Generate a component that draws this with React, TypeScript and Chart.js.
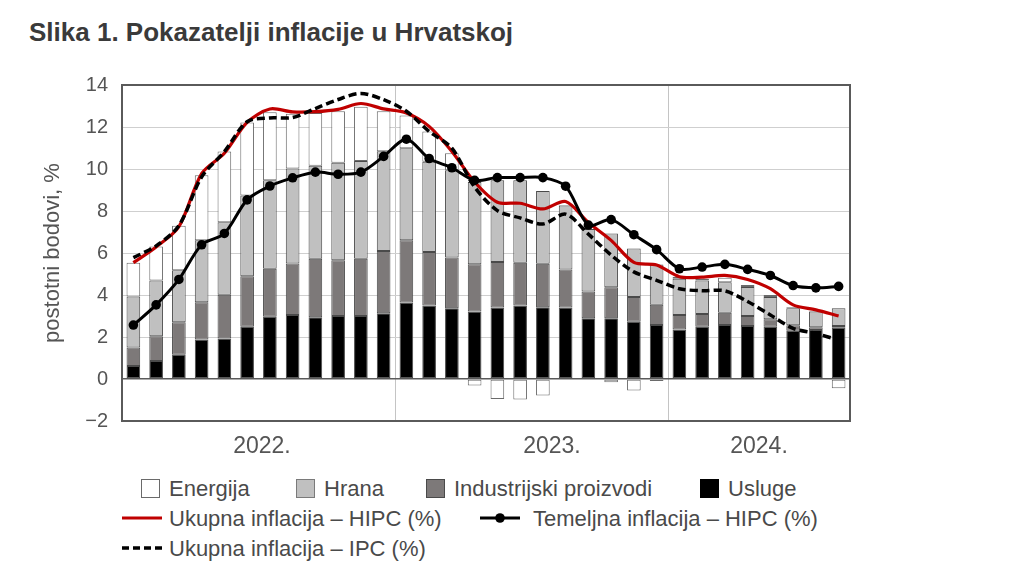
import React, { useEffect, useRef } from "react";
import { Chart, registerables } from "chart.js";

Chart.register(...registerables);

// Months Jan 2022 – Aug 2024
const months = [
  "2022-01", "2022-02", "2022-03", "2022-04", "2022-05", "2022-06", "2022-07", "2022-08", "2022-09", "2022-10", "2022-11", "2022-12",
  "2023-01", "2023-02", "2023-03", "2023-04", "2023-05", "2023-06", "2023-07", "2023-08", "2023-09", "2023-10", "2023-11", "2023-12",
  "2024-01", "2024-02", "2024-03", "2024-04", "2024-05", "2024-06", "2024-07", "2024-08",
];

const usluge = [
  0.62, 0.86, 1.16, 1.88, 1.93, 2.49, 2.97, 3.05, 2.94, 3.0, 3.0, 3.13,
  3.64, 3.5, 3.37, 3.21, 3.4, 3.5, 3.42, 3.4, 2.89, 2.89, 2.73, 2.57,
  2.36, 2.49, 2.57, 2.52, 2.49, 2.3, 2.33, 2.44,
];

const industrijski = [
  0.88, 1.18, 1.54, 1.78, 2.08, 2.4, 2.28, 2.45, 2.79, 2.65, 2.73, 2.97,
  2.97, 2.55, 2.41, 2.25, 2.17, 2.04, 2.07, 1.82, 1.28, 1.48, 1.17, 0.96,
  0.69, 0.61, 0.59, 0.48, 0.36, 0.26, 0.13, 0.08,
];

const hrana = [
  2.43, 2.65, 2.48, 2.95, 3.45, 3.85, 4.21, 4.52, 4.42, 4.65, 4.65, 4.75,
  4.38, 4.29, 4.16, 3.92, 3.89, 3.92, 3.46, 3.04, 2.97, 2.56, 2.31, 1.92,
  1.72, 1.59, 1.45, 1.38, 1.05, 0.81, 0.75, 0.85,
];

const energija = [
  1.61, 1.62, 2.12, 3.09, 3.37, 3.48, 3.24, 2.61, 2.52, 2.45, 2.58, 1.9,
  1.56, 1.45, 0.81, -0.31, -0.95, -0.98, -0.79, 0.03, 0.0, -0.15, -0.55, -0.1,
  0.1, 0.08, 0.21, 0.1, 0.1, 0.05, 0.04, -0.44,
];

const hipc = [
  5.54, 6.29, 7.25, 9.78, 10.75, 12.22, 12.86, 12.72, 12.73, 12.84, 13.12, 12.86,
  12.67, 12.03, 10.83, 9.38, 8.42, 8.37, 8.1, 8.45, 7.45, 6.6, 5.55, 5.43,
  4.87, 4.85, 4.93, 4.74, 4.3, 3.53, 3.29, 3.0,
];

const temeljna = [
  2.57, 3.53, 4.74, 6.39, 6.93, 8.53, 9.19, 9.58, 9.85, 9.75, 9.85, 10.6,
  11.42, 10.5, 10.06, 9.46, 9.59, 9.59, 9.59, 9.18, 7.33, 7.59, 6.87, 6.16,
  5.25, 5.33, 5.46, 5.22, 4.93, 4.45, 4.34, 4.41,
];

const ipc = [
  5.78, 6.34, 7.3, 9.62, 10.83, 12.25, 12.43, 12.45, 12.88, 13.31, 13.6, 13.3,
  12.75, 11.79, 10.99, 9.14, 8.02, 7.67, 7.38, 7.85, 6.9, 5.9, 5.1, 4.7,
  4.3, 4.2, 4.2, 3.69, 3.05, 2.41, 2.17, 1.85,
];

const yearLabels = ["2022.", "2023.", "2024."];

const FONT = "'Liberation Sans', Arial, Helvetica, sans-serif";
const TEXT = "#555555";

const framePlugin = {
  id: "frame",
  beforeDatasetsDraw(chart: any) {
    const { ctx, chartArea } = chart;
    const { left, top, right, bottom } = chartArea;
    ctx.save();
    ctx.strokeStyle = "#5a5a5a";
    ctx.lineWidth = 2;
    ctx.strokeRect(left, top, right - left, bottom - top);
    ctx.restore();
  },
};

function ChartCanvas() {
  const ref = useRef<HTMLCanvasElement | null>(null);
  useEffect(() => {
    if (!ref.current) return;
    const yearTickValues = [6.15, 12, 18.9, 24, 28];
    const yearTickText = [yearLabels[0], "", yearLabels[1], "", yearLabels[2]];
    const barCommon = {
      type: "bar" as const,
      stack: "bars",
      borderColor: "#4a4a4a",
      borderWidth: 1,
      barPercentage: 0.6,
      categoryPercentage: 1.0,
      borderSkipped: false as const,
    };
    const chart = new Chart(ref.current, {
      type: "bar",
      data: {
        labels: months,
        datasets: [
          {
            type: "line",
            label: "Ukupna inflacija – IPC (%)",
            data: ipc,
            borderColor: "#000000",
            borderWidth: 3.5,
            borderDash: [8, 4],
            pointRadius: 0,
            tension: 0.3,
            fill: false,
            stack: "l-ipc",
          },
          {
            type: "line",
            label: "Temeljna inflacija – HIPC (%)",
            data: temeljna,
            borderColor: "#000000",
            backgroundColor: "#000000",
            borderWidth: 3,
            pointRadius: 4.8,
            pointBackgroundColor: "#000000",
            pointBorderWidth: 0,
            tension: 0.3,
            fill: false,
            stack: "l-core",
          },
          {
            type: "line",
            label: "Ukupna inflacija – HIPC (%)",
            data: hipc,
            borderColor: "#c00000",
            borderWidth: 3.2,
            pointRadius: 0,
            tension: 0.3,
            fill: false,
            stack: "l-hipc",
          },
          { ...barCommon, label: "Usluge", data: usluge, backgroundColor: "#000000" },
          { ...barCommon, label: "Industrijski proizvodi", data: industrijski, backgroundColor: "#7d7979" },
          { ...barCommon, label: "Hrana", data: hrana, backgroundColor: "#c0c0c0" },
          { ...barCommon, label: "Energija", data: energija, backgroundColor: "#ffffff", borderColor: "#6a6a6a" },
        ] as any,
      },
      options: {
        animation: false,
        responsive: false,
        maintainAspectRatio: false,
        layout: { padding: { left: 36, top: 85, right: 174, bottom: 0 } },
        plugins: {
          legend: { display: false },
          tooltip: { enabled: false },
        },
        scales: {
          x: {
            type: "category",
            display: false,
            offset: true,
            stacked: true,
          },
          xYear: {
            type: "linear",
            position: "bottom",
            min: 0,
            max: 32,
            offset: false,
            afterBuildTicks: (axis: any) => {
              axis.ticks = yearTickValues.map((v) => ({ value: v }));
            },
            afterFit: (axis: any) => {
              axis.height = 45;
            },
            ticks: {
              autoSkip: false,
              maxRotation: 0,
              padding: 12,
              color: TEXT,
              font: { family: FONT, size: 23 },
              callback: (_v: any, i: number) => yearTickText[i],
            },
            grid: {
              offset: false,
              drawTicks: false,
              lineWidth: 1,
              color: (ctx: any) =>
                ctx.tick && (ctx.tick.value === 12 || ctx.tick.value === 24) ? "#c4c4c4" : "rgba(0,0,0,0)",
            },
            border: { display: false },
          },
          y: {
            stacked: true,
            min: -2,
            max: 14,
            afterFit: (axis: any) => {
              axis.width = 86;
            },
            ticks: {
              stepSize: 2,
              padding: 14,
              color: TEXT,
              font: { family: FONT, size: 20 },
              callback: (v: any) => (Number(v) < 0 ? "\u2212" + Math.abs(Number(v)) : String(v)),
            },
            grid: {
              drawTicks: false,
              color: (ctx: any) => (ctx.tick && ctx.tick.value === 0 ? "#5a5a5a" : "#cfcfcf"),
              lineWidth: (ctx: any) => (ctx.tick && ctx.tick.value === 0 ? 1.5 : 1),
            },
            border: { display: false },
            title: {
              display: true,
              text: "postotni bodovi, %",
              color: TEXT,
              font: { family: FONT, size: 22 },
            },
          },
        },
      } as any,
      plugins: [framePlugin],
    });
    return () => chart.destroy();
  }, []);
  return (
    <canvas
      ref={ref}
      width={1024}
      height={466}
      style={{ position: "absolute", left: 0, top: 0, width: 1024, height: 466 }}
    />
  );
}

const legendText: React.CSSProperties = {
  position: "absolute",
  fontFamily: FONT,
  fontSize: 22,
  lineHeight: "22px",
  color: "#4a4a4a",
  whiteSpace: "nowrap",
};

function Box({ x, y, fill, stroke }: { x: number; y: number; fill: string; stroke: string }) {
  return (
    <div
      style={{
        position: "absolute",
        left: x,
        top: y,
        width: 17,
        height: 17,
        background: fill,
        border: `1px solid ${stroke}`,
      }}
    />
  );
}

function Legend() {
  return (
    <>
      <Box x={141} y={479} fill="#ffffff" stroke="#6a6a6a" />
      <div style={{ ...legendText, left: 169, top: 478 }}>Energija</div>
      <Box x={296} y={479} fill="#c0c0c0" stroke="#7a7a7a" />
      <div style={{ ...legendText, left: 324, top: 478 }}>Hrana</div>
      <Box x={426} y={479} fill="#7d7979" stroke="#4a4a4a" />
      <div style={{ ...legendText, left: 454, top: 478 }}>Industrijski proizvodi</div>
      <Box x={700} y={479} fill="#000000" stroke="#000000" />
      <div style={{ ...legendText, left: 728, top: 478 }}>Usluge</div>

      <svg style={{ position: "absolute", left: 120, top: 508 }} width={44} height={20}>
        <line x1={2} y1={10} x2={42} y2={10} stroke="#c00000" strokeWidth={3.2} />
      </svg>
      <div style={{ ...legendText, left: 169, top: 508 }}>Ukupna inflacija – HIPC (%)</div>
      <svg style={{ position: "absolute", left: 478, top: 508 }} width={44} height={20}>
        <line x1={2} y1={10} x2={42} y2={10} stroke="#000000" strokeWidth={3} />
        <circle cx={22} cy={10} r={4.8} fill="#000000" />
      </svg>
      <div style={{ ...legendText, left: 533, top: 508 }}>Temeljna inflacija – HIPC (%)</div>

      <svg style={{ position: "absolute", left: 120, top: 538 }} width={44} height={20}>
        <line x1={2} y1={10} x2={42} y2={10} stroke="#000000" strokeWidth={3.5} strokeDasharray="7 4" />
      </svg>
      <div style={{ ...legendText, left: 169, top: 538 }}>Ukupna inflacija – IPC (%)</div>
    </>
  );
}

export default function App() {
  return (
    <div
      style={{
        position: "fixed",
        left: 0,
        top: 0,
        width: 1024,
        height: 576,
        background: "#ffffff",
        overflow: "hidden",
      }}
    >
      <div
        style={{
          position: "absolute",
          left: 29,
          top: 19,
          fontFamily: FONT,
          fontWeight: "bold",
          fontSize: 26,
          lineHeight: "26px",
          color: "#3a3a3a",
          whiteSpace: "nowrap",
        }}
      >
        Slika 1. Pokazatelji inflacije u Hrvatskoj
      </div>
      <ChartCanvas />
      <Legend />
    </div>
  );
}
